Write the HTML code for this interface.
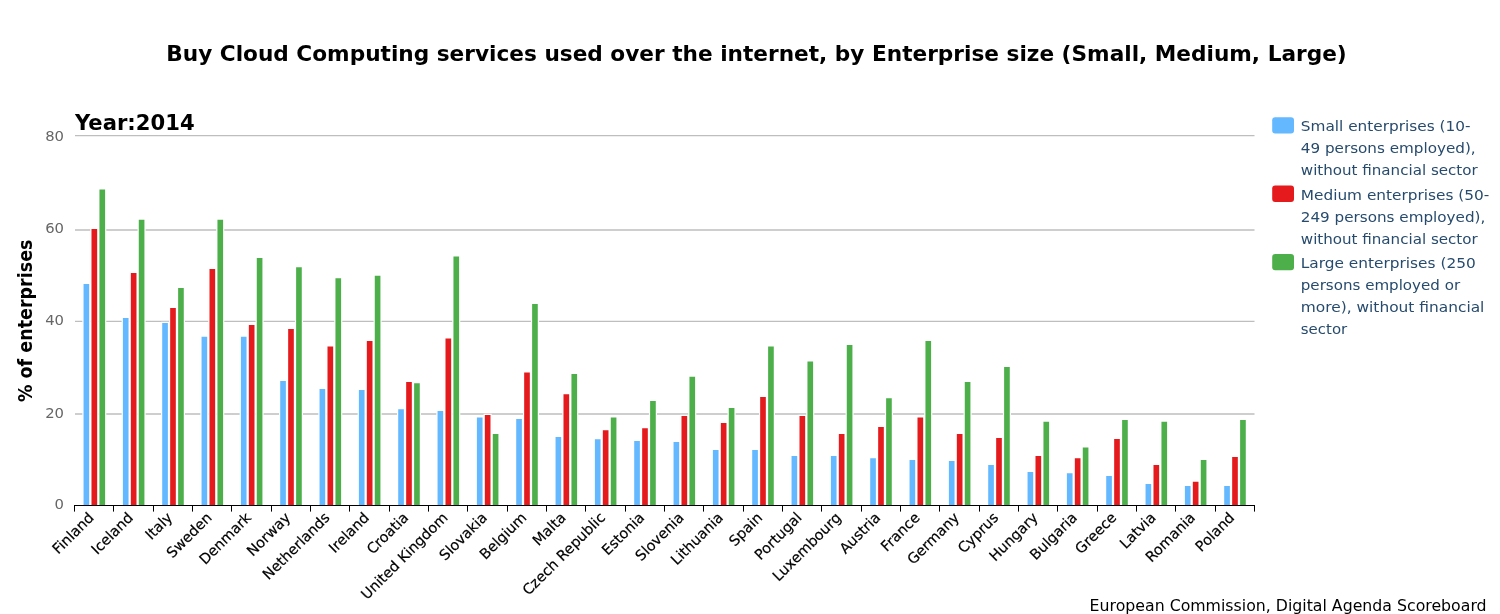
<!DOCTYPE html>
<html lang="en"><head><meta charset="utf-8"><title>Buy Cloud Computing services used over the internet, by Enterprise size</title>
<style>
html,body{margin:0;padding:0;background:#fff;}
body{width:1500px;height:614px;overflow:hidden;font-family:"DejaVu Sans","Liberation Sans",sans-serif;}
svg{display:block;}
svg text{font-family:"DejaVu Sans","Liberation Sans",sans-serif;}
</style></head><body>
<svg width="1500" height="614" viewBox="0 0 1500 614">
<rect x="0" y="0" width="1500" height="614" fill="#ffffff"/>

<g stroke="#BEBEBE" stroke-width="1.35">
<line x1="75.0" y1="135.6" x2="1254.5" y2="135.6"/>
<line x1="75.0" y1="230.0" x2="1254.5" y2="230.0"/>
<line x1="75.0" y1="321.4" x2="1254.5" y2="321.4"/>
<line x1="75.0" y1="414.0" x2="1254.5" y2="414.0"/>
</g>
<g fill="#63B8FF" stroke="#ffffff" stroke-width="2.4" paint-order="stroke">
<rect x="83.55" y="284.00" width="5.65" height="221.00"/>
<rect x="122.88" y="318.00" width="5.65" height="187.00"/>
<rect x="162.22" y="323.00" width="5.65" height="182.00"/>
<rect x="201.55" y="336.75" width="5.65" height="168.25"/>
<rect x="240.88" y="336.75" width="5.65" height="168.25"/>
<rect x="280.22" y="381.00" width="5.65" height="124.00"/>
<rect x="319.55" y="389.00" width="5.65" height="116.00"/>
<rect x="358.88" y="390.00" width="5.65" height="115.00"/>
<rect x="398.22" y="409.25" width="5.65" height="95.75"/>
<rect x="437.55" y="411.00" width="5.65" height="94.00"/>
<rect x="476.88" y="417.50" width="5.65" height="87.50"/>
<rect x="516.22" y="419.00" width="5.65" height="86.00"/>
<rect x="555.55" y="437.00" width="5.65" height="68.00"/>
<rect x="594.88" y="439.25" width="5.65" height="65.75"/>
<rect x="634.22" y="441.00" width="5.65" height="64.00"/>
<rect x="673.55" y="442.00" width="5.65" height="63.00"/>
<rect x="712.88" y="450.00" width="5.65" height="55.00"/>
<rect x="752.22" y="450.00" width="5.65" height="55.00"/>
<rect x="791.55" y="456.00" width="5.65" height="49.00"/>
<rect x="830.88" y="456.00" width="5.65" height="49.00"/>
<rect x="870.22" y="458.25" width="5.65" height="46.75"/>
<rect x="909.55" y="460.00" width="5.65" height="45.00"/>
<rect x="948.88" y="461.00" width="5.65" height="44.00"/>
<rect x="988.22" y="465.00" width="5.65" height="40.00"/>
<rect x="1027.55" y="472.00" width="5.65" height="33.00"/>
<rect x="1066.88" y="473.25" width="5.65" height="31.75"/>
<rect x="1106.22" y="476.00" width="5.65" height="29.00"/>
<rect x="1145.55" y="484.00" width="5.65" height="21.00"/>
<rect x="1184.88" y="486.00" width="5.65" height="19.00"/>
<rect x="1224.22" y="486.00" width="5.65" height="19.00"/>
</g>
<g fill="#E41A1C" stroke="#ffffff" stroke-width="2.4" paint-order="stroke">
<rect x="91.50" y="229.00" width="5.65" height="276.00"/>
<rect x="130.83" y="273.00" width="5.65" height="232.00"/>
<rect x="170.17" y="308.00" width="5.65" height="197.00"/>
<rect x="209.50" y="269.00" width="5.65" height="236.00"/>
<rect x="248.83" y="325.00" width="5.65" height="180.00"/>
<rect x="288.17" y="329.00" width="5.65" height="176.00"/>
<rect x="327.50" y="346.50" width="5.65" height="158.50"/>
<rect x="366.83" y="341.00" width="5.65" height="164.00"/>
<rect x="406.17" y="382.00" width="5.65" height="123.00"/>
<rect x="445.50" y="338.50" width="5.65" height="166.50"/>
<rect x="484.83" y="415.00" width="5.65" height="90.00"/>
<rect x="524.17" y="372.50" width="5.65" height="132.50"/>
<rect x="563.50" y="394.25" width="5.65" height="110.75"/>
<rect x="602.83" y="430.25" width="5.65" height="74.75"/>
<rect x="642.17" y="428.25" width="5.65" height="76.75"/>
<rect x="681.50" y="416.00" width="5.65" height="89.00"/>
<rect x="720.83" y="423.00" width="5.65" height="82.00"/>
<rect x="760.17" y="397.00" width="5.65" height="108.00"/>
<rect x="799.50" y="416.00" width="5.65" height="89.00"/>
<rect x="838.83" y="434.00" width="5.65" height="71.00"/>
<rect x="878.17" y="427.00" width="5.65" height="78.00"/>
<rect x="917.50" y="417.50" width="5.65" height="87.50"/>
<rect x="956.83" y="434.00" width="5.65" height="71.00"/>
<rect x="996.17" y="438.00" width="5.65" height="67.00"/>
<rect x="1035.50" y="456.00" width="5.65" height="49.00"/>
<rect x="1074.83" y="458.25" width="5.65" height="46.75"/>
<rect x="1114.17" y="439.00" width="5.65" height="66.00"/>
<rect x="1153.50" y="465.00" width="5.65" height="40.00"/>
<rect x="1192.83" y="481.75" width="5.65" height="23.25"/>
<rect x="1232.17" y="457.00" width="5.65" height="48.00"/>
</g>
<g fill="#4DAF4A" stroke="#ffffff" stroke-width="2.4" paint-order="stroke">
<rect x="99.45" y="189.50" width="5.65" height="315.50"/>
<rect x="138.78" y="219.75" width="5.65" height="285.25"/>
<rect x="178.12" y="288.00" width="5.65" height="217.00"/>
<rect x="217.45" y="219.75" width="5.65" height="285.25"/>
<rect x="256.78" y="258.00" width="5.65" height="247.00"/>
<rect x="296.12" y="267.25" width="5.65" height="237.75"/>
<rect x="335.45" y="278.25" width="5.65" height="226.75"/>
<rect x="374.78" y="275.75" width="5.65" height="229.25"/>
<rect x="414.12" y="383.25" width="5.65" height="121.75"/>
<rect x="453.45" y="256.50" width="5.65" height="248.50"/>
<rect x="492.78" y="434.00" width="5.65" height="71.00"/>
<rect x="532.12" y="304.00" width="5.65" height="201.00"/>
<rect x="571.45" y="374.00" width="5.65" height="131.00"/>
<rect x="610.78" y="417.50" width="5.65" height="87.50"/>
<rect x="650.12" y="401.00" width="5.65" height="104.00"/>
<rect x="689.45" y="376.75" width="5.65" height="128.25"/>
<rect x="728.78" y="408.00" width="5.65" height="97.00"/>
<rect x="768.12" y="346.50" width="5.65" height="158.50"/>
<rect x="807.45" y="361.50" width="5.65" height="143.50"/>
<rect x="846.78" y="345.00" width="5.65" height="160.00"/>
<rect x="886.12" y="398.25" width="5.65" height="106.75"/>
<rect x="925.45" y="341.00" width="5.65" height="164.00"/>
<rect x="964.78" y="382.00" width="5.65" height="123.00"/>
<rect x="1004.12" y="367.00" width="5.65" height="138.00"/>
<rect x="1043.45" y="421.75" width="5.65" height="83.25"/>
<rect x="1082.78" y="447.50" width="5.65" height="57.50"/>
<rect x="1122.12" y="420.00" width="5.65" height="85.00"/>
<rect x="1161.45" y="421.75" width="5.65" height="83.25"/>
<rect x="1200.78" y="460.00" width="5.65" height="45.00"/>
<rect x="1240.12" y="420.00" width="5.65" height="85.00"/>
</g>
<g stroke="#000000" stroke-width="1" fill="none">
<line x1="74.0" y1="505.5" x2="1255.0" y2="505.5"/>
<line x1="74.5" y1="505" x2="74.5" y2="511.6"/>
<line x1="113.5" y1="505" x2="113.5" y2="511.6"/>
<line x1="153.5" y1="505" x2="153.5" y2="511.6"/>
<line x1="192.5" y1="505" x2="192.5" y2="511.6"/>
<line x1="231.5" y1="505" x2="231.5" y2="511.6"/>
<line x1="271.5" y1="505" x2="271.5" y2="511.6"/>
<line x1="310.5" y1="505" x2="310.5" y2="511.6"/>
<line x1="349.5" y1="505" x2="349.5" y2="511.6"/>
<line x1="389.5" y1="505" x2="389.5" y2="511.6"/>
<line x1="428.5" y1="505" x2="428.5" y2="511.6"/>
<line x1="467.5" y1="505" x2="467.5" y2="511.6"/>
<line x1="507.5" y1="505" x2="507.5" y2="511.6"/>
<line x1="546.5" y1="505" x2="546.5" y2="511.6"/>
<line x1="585.5" y1="505" x2="585.5" y2="511.6"/>
<line x1="625.5" y1="505" x2="625.5" y2="511.6"/>
<line x1="664.5" y1="505" x2="664.5" y2="511.6"/>
<line x1="703.5" y1="505" x2="703.5" y2="511.6"/>
<line x1="743.5" y1="505" x2="743.5" y2="511.6"/>
<line x1="782.5" y1="505" x2="782.5" y2="511.6"/>
<line x1="821.5" y1="505" x2="821.5" y2="511.6"/>
<line x1="861.5" y1="505" x2="861.5" y2="511.6"/>
<line x1="900.5" y1="505" x2="900.5" y2="511.6"/>
<line x1="939.5" y1="505" x2="939.5" y2="511.6"/>
<line x1="979.5" y1="505" x2="979.5" y2="511.6"/>
<line x1="1018.5" y1="505" x2="1018.5" y2="511.6"/>
<line x1="1057.5" y1="505" x2="1057.5" y2="511.6"/>
<line x1="1097.5" y1="505" x2="1097.5" y2="511.6"/>
<line x1="1136.5" y1="505" x2="1136.5" y2="511.6"/>
<line x1="1175.5" y1="505" x2="1175.5" y2="511.6"/>
<line x1="1215.5" y1="505" x2="1215.5" y2="511.6"/>
<line x1="1254.5" y1="505" x2="1254.5" y2="511.6"/>
</g>
<g fill="#666666" font-size="14.8" text-anchor="end">
<text x="64.0" y="140.8">80</text>
<text x="64.0" y="232.8">60</text>
<text x="64.0" y="324.8">40</text>
<text x="64.0" y="417.5">20</text>
<text x="64.0" y="509.4">0</text>
</g>
<g fill="#000000" font-size="14.4" text-anchor="end" stroke="#000000" stroke-width="0.2">
<text x="94.67" y="518.5" transform="rotate(-45 94.67 518.5)">Finland</text>
<text x="134.00" y="518.5" transform="rotate(-45 134.00 518.5)">Iceland</text>
<text x="173.33" y="518.5" transform="rotate(-45 173.33 518.5)">Italy</text>
<text x="212.67" y="518.5" transform="rotate(-45 212.67 518.5)">Sweden</text>
<text x="252.00" y="518.5" transform="rotate(-45 252.00 518.5)">Denmark</text>
<text x="291.33" y="518.5" transform="rotate(-45 291.33 518.5)">Norway</text>
<text x="330.67" y="518.5" transform="rotate(-45 330.67 518.5)">Netherlands</text>
<text x="370.00" y="518.5" transform="rotate(-45 370.00 518.5)">Ireland</text>
<text x="409.33" y="518.5" transform="rotate(-45 409.33 518.5)">Croatia</text>
<text x="448.67" y="518.5" transform="rotate(-45 448.67 518.5)">United Kingdom</text>
<text x="488.00" y="518.5" transform="rotate(-45 488.00 518.5)">Slovakia</text>
<text x="527.33" y="518.5" transform="rotate(-45 527.33 518.5)">Belgium</text>
<text x="566.67" y="518.5" transform="rotate(-45 566.67 518.5)">Malta</text>
<text x="606.00" y="518.5" transform="rotate(-45 606.00 518.5)">Czech Republic</text>
<text x="645.33" y="518.5" transform="rotate(-45 645.33 518.5)">Estonia</text>
<text x="684.67" y="518.5" transform="rotate(-45 684.67 518.5)">Slovenia</text>
<text x="724.00" y="518.5" transform="rotate(-45 724.00 518.5)">Lithuania</text>
<text x="763.33" y="518.5" transform="rotate(-45 763.33 518.5)">Spain</text>
<text x="802.67" y="518.5" transform="rotate(-45 802.67 518.5)">Portugal</text>
<text x="842.00" y="518.5" transform="rotate(-45 842.00 518.5)">Luxembourg</text>
<text x="881.33" y="518.5" transform="rotate(-45 881.33 518.5)">Austria</text>
<text x="920.67" y="518.5" transform="rotate(-45 920.67 518.5)">France</text>
<text x="960.00" y="518.5" transform="rotate(-45 960.00 518.5)">Germany</text>
<text x="999.33" y="518.5" transform="rotate(-45 999.33 518.5)">Cyprus</text>
<text x="1038.67" y="518.5" transform="rotate(-45 1038.67 518.5)">Hungary</text>
<text x="1078.00" y="518.5" transform="rotate(-45 1078.00 518.5)">Bulgaria</text>
<text x="1117.33" y="518.5" transform="rotate(-45 1117.33 518.5)">Greece</text>
<text x="1156.67" y="518.5" transform="rotate(-45 1156.67 518.5)">Latvia</text>
<text x="1196.00" y="518.5" transform="rotate(-45 1196.00 518.5)">Romania</text>
<text x="1235.33" y="518.5" transform="rotate(-45 1235.33 518.5)">Poland</text>
</g>
<text x="756.5" y="61" text-anchor="middle" font-size="20.6" font-weight="bold" fill="#000" textLength="1180.5" lengthAdjust="spacingAndGlyphs">Buy Cloud Computing services used over the internet, by Enterprise size (Small, Medium, Large)</text>
<text x="75" y="129.5" font-size="20.6" font-weight="bold" fill="#000" textLength="119.6" lengthAdjust="spacingAndGlyphs">Year:2014</text>
<text x="32" y="320.8" text-anchor="middle" font-size="19.5" font-weight="bold" fill="#000" textLength="162.5" lengthAdjust="spacingAndGlyphs" transform="rotate(-90 32 320.8)">% of enterprises</text>
<rect x="1272.2" y="117.2" width="21.8" height="16.3" rx="3" ry="3" fill="#63B8FF"/>
<g font-size="14.3" fill="#274b6d">
<text x="1300.8" y="131.4" textLength="169.7" lengthAdjust="spacingAndGlyphs">Small enterprises (10-</text>
<text x="1300.8" y="153.2" textLength="174.9" lengthAdjust="spacingAndGlyphs">49 persons employed),</text>
<text x="1300.8" y="175.2" textLength="176.9" lengthAdjust="spacingAndGlyphs">without financial sector</text>
</g>
<rect x="1272.2" y="185.6" width="21.8" height="16.3" rx="3" ry="3" fill="#E41A1C"/>
<g font-size="14.3" fill="#274b6d">
<text x="1300.8" y="200" textLength="188.5" lengthAdjust="spacingAndGlyphs">Medium enterprises (50-</text>
<text x="1300.8" y="221.9" textLength="184.5" lengthAdjust="spacingAndGlyphs">249 persons employed),</text>
<text x="1300.8" y="243.8" textLength="176.9" lengthAdjust="spacingAndGlyphs">without financial sector</text>
</g>
<rect x="1272.2" y="254" width="21.8" height="16.3" rx="3" ry="3" fill="#4DAF4A"/>
<g font-size="14.3" fill="#274b6d">
<text x="1300.8" y="268.4" textLength="174.9" lengthAdjust="spacingAndGlyphs">Large enterprises (250</text>
<text x="1300.8" y="290.3" textLength="159.3" lengthAdjust="spacingAndGlyphs">persons employed or</text>
<text x="1300.8" y="311.9" textLength="183.6" lengthAdjust="spacingAndGlyphs">more), without financial</text>
<text x="1300.8" y="333.6" textLength="46.4" lengthAdjust="spacingAndGlyphs">sector</text>
</g>
<text x="1486.6" y="610.8" text-anchor="end" font-size="15.2" fill="#000" textLength="397" lengthAdjust="spacingAndGlyphs">European Commission, Digital Agenda Scoreboard</text>
</svg></body></html>
